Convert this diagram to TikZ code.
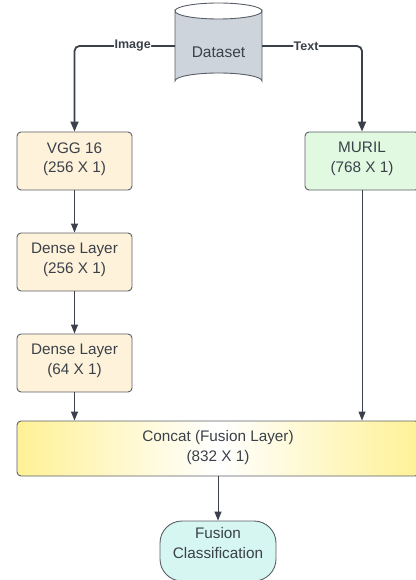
\documentclass[tikz,border=0pt]{standalone}
\usepackage{fontspec}
\setmainfont{Liberation Sans}
\usetikzlibrary{arrows.meta}
\definecolor{ink}{HTML}{3A414A}
\definecolor{edge}{HTML}{5A5F67}
\definecolor{orangefill}{HTML}{FFF2DA}
\definecolor{greenfill}{HTML}{E1F9E1}
\definecolor{dsfill}{HTML}{CED4DC}
\definecolor{cyanfill}{HTML}{D6F6F1}
\definecolor{yel}{HTML}{FFF196}
\tikzset{
  box/.style={draw=edge, line width=0.9pt, rounded corners=4pt, minimum width=115pt, minimum height=58pt,
    align=center, text=ink, font=\fontsize{15.3}{19.5}\selectfont, inner sep=0pt},
  conn/.style={draw=ink, line width=1pt, -{Triangle[length=9pt,width=7pt]}},
  bigconn/.style={draw=ink, line width=1.8pt, rounded corners=5pt, -{Triangle[length=10pt,width=8pt]}},
  lab/.style={fill=white, text=ink, font=\bfseries\fontsize{12.5}{14}\selectfont, inner sep=0.5pt},
  boxtext/.style={align=center, text=ink, font=\fontsize{15.3}{19.5}\selectfont, inner sep=0pt}
}
\begin{document}
\begin{tikzpicture}[x=1pt,y=-1pt]
\useasboundingbox (0,0) rectangle (415,580);
% Dataset cylinder
\filldraw[fill=dsfill, draw=edge, line width=0.9pt]
  (175,11) -- (175,81) arc[start angle=180, end angle=360, x radius=43.5, y radius=8]
  -- (262,11) arc[start angle=0, end angle=180, x radius=43.5, y radius=8] -- cycle;
\draw[edge, line width=0.9pt] (175,11) arc[start angle=180, end angle=360, x radius=43.5, y radius=8];
\node[minimum width=87pt, minimum height=86pt, inner sep=0pt] (ds) at (218.5,46) {};
\node[text=ink, font=\fontsize{15.5}{19}\selectfont] (dstext) at (218.5,52.5) {Dataset};
% boxes
\node[box, fill=orangefill] (vgg) at (74.5,161) {};
\node[boxtext] (vggt) at (74.5,159) {VGG 16\\(256 X 1)};
\node[box, fill=orangefill] (d1) at (74.5,262) {};
\node[boxtext] (d1t) at (74.5,260) {Dense Layer\\(256 X 1)};
\node[box, fill=orangefill] (d2) at (74.5,363) {};
\node[boxtext] (d2t) at (74.5,361) {Dense Layer\\(64 X 1)};
\node[box, fill=greenfill, minimum width=114pt] (muril) at (362,161) {};
\node[boxtext] (murilt) at (362,159) {MURIL\\(768 X 1)};
\node[box, left color=yel, right color=yel, middle color=white, minimum width=402pt, minimum height=55pt] (concat) at (218,448.5) {};
\node[boxtext] (concatt) at (218,447.5) {Concat (Fusion Layer)\\(832 X 1)};
\node[box, fill=cyanfill, minimum width=116pt, minimum height=60pt, rounded corners=22pt] (fusion) at (218,551) {};
\node[boxtext] (fusiont) at (218,543) {Fusion\\Classification};
% connectors
\draw[bigconn] (ds.west) -| node[lab, pos=0.21] {Image} (vgg.north);
\draw[bigconn] (ds.east) -| node[lab, pos=0.22] {Text} (muril.north);
\draw[conn] (vgg.south) -- (d1.north);
\draw[conn] (d1.south) -- (d2.north);
\draw[conn] (d2.south) -- (d2.south |- concat.north);
\draw[conn] (muril.south) -- (muril.south |- concat.north);
\draw[conn] (concat.south) -- (fusion.north);
\end{tikzpicture}
\end{document}
